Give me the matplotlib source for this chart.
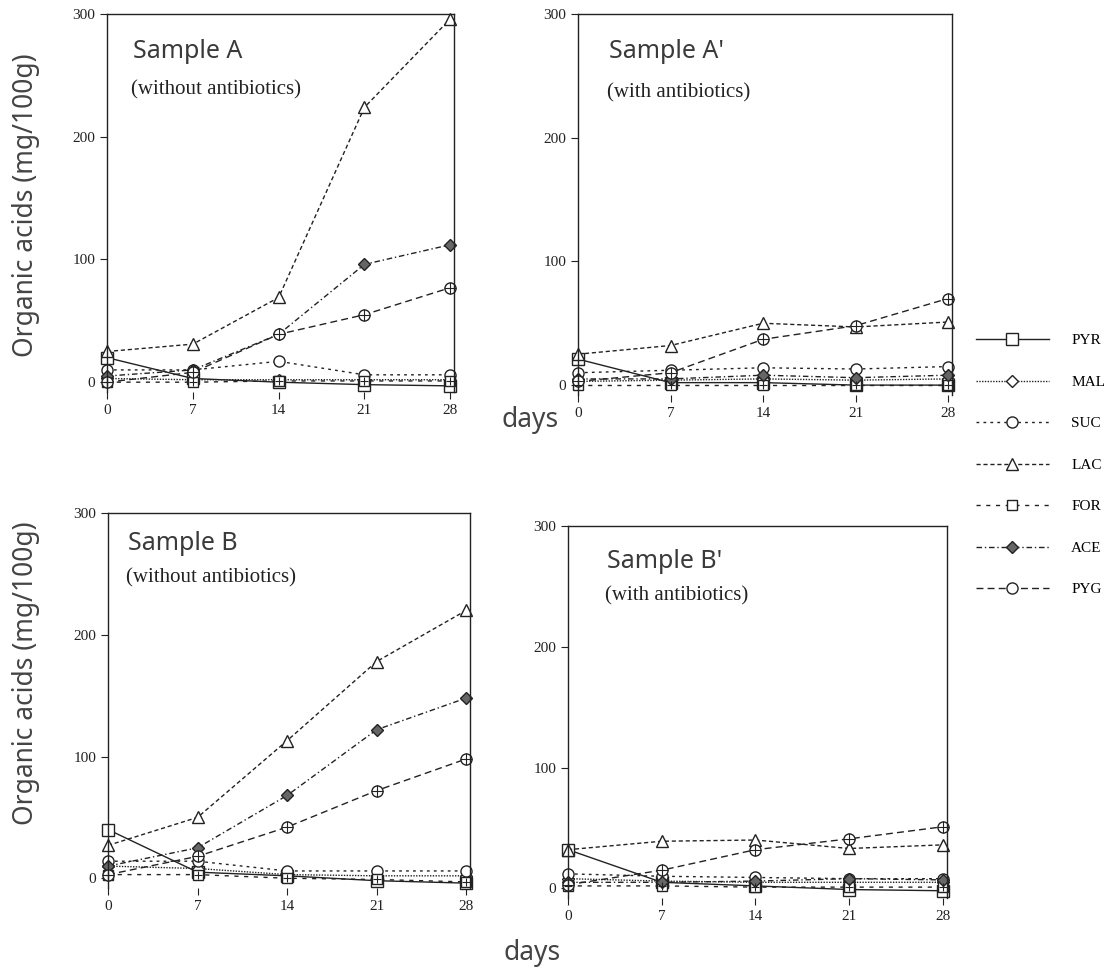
import numpy as np
import matplotlib
matplotlib.use("Agg")
import matplotlib.pyplot as plt

W, H = 1119, 974

days = [0, 7, 14, 21, 28]
acids = ["PYR", "MAL", "SUC", "LAC", "FOR", "ACE", "PYG"]

# values (mg/100g)
sample_A = {
    "PYR": [20, 3, 0, -2, -3],
    "MAL": [3, 2, 2, 2, 2],
    "SUC": [10, 10, 17, 6, 6],
    "LAC": [25, 31, 69, 224, 296],
    "FOR": [0, 0, 1, 1, 1],
    "ACE": [5, 10, 39, 96, 112],
    "PYG": [0, 8, 39, 55, 77],
}
sample_A2 = {
    "PYR": [21, 2, 2, 0, 0],
    "MAL": [3, 4, 5, 4, 5],
    "SUC": [10, 12, 14, 13, 15],
    "LAC": [25, 32, 50, 47, 51],
    "FOR": [0, 0, 0, 0, 0],
    "ACE": [5, 5, 8, 6, 8],
    "PYG": [3, 10, 37, 48, 70],
}
sample_B = {
    "PYR": [40, 5, 2, -2, -4],
    "MAL": [10, 8, 3, 2, 2],
    "SUC": [14, 14, 6, 6, 6],
    "LAC": [27, 50, 113, 178, 220],
    "FOR": [3, 3, 0, -1, -3],
    "ACE": [10, 25, 68, 122, 148],
    "PYG": [3, 18, 42, 72, 98],
}
sample_B2 = {
    "PYR": [32, 5, 2, -1, -2],
    "MAL": [8, 6, 5, 5, 5],
    "SUC": [12, 10, 9, 8, 8],
    "LAC": [32, 39, 40, 33, 36],
    "FOR": [2, 2, 1, 1, 1],
    "ACE": [5, 5, 6, 8, 7],
    "PYG": [3, 15, 32, 41, 51],
}

styles = {
    "PYR": dict(ls="-", marker="s"),
    "MAL": dict(ls=(0, (1, 1)), marker="D", ms=6),
    "SUC": dict(ls=(0, (2, 3)), marker="o"),
    "LAC": dict(ls=(0, (3, 2)), marker="^"),
    "FOR": dict(ls=(0, (3, 4)), marker="s", ms=7),
    "ACE": dict(ls=(0, (4, 2, 1, 2)), marker="D", mfc="#666666", ms=6),
    "PYG": dict(ls=(0, (5, 3)), marker="o"),
}


def px(x, y):
    return x / W, 1 - y / H


fig = plt.figure(figsize=(W / 100, H / 100), dpi=100)

# axes boxes in pixels: left, right, top, bottom
boxes = [(107, 454, 14, 392), (578, 952, 14, 395),
         (108, 470, 513, 888), (568, 947, 526, 898)]
datasets = [sample_A, sample_A2, sample_B, sample_B2]
titles = [("Sample A", "(without antibiotics)", 133, 52, 90),
          ("Sample A'", "(with antibiotics)", 609, 52, 93),
          ("Sample B", "(without antibiotics)", 128, 543, 578),
          ("Sample B'", "(with antibiotics)", 607, 562, 596)]

handles = []
for k, (box, data) in enumerate(zip(boxes, datasets)):
    l, r, t, b = box
    x0, y0 = px(l, b)
    ax = fig.add_axes([x0, y0, (r - l) / W, (b - t) / H])
    for name in acids:
        st = dict(styles[name])
        mfc = st.pop("mfc", "white")
        ms = st.pop("ms", 8)
        ln, = ax.plot(days, data[name], color="#222222", lw=1.0,
                      mfc=mfc, mec="#222222", mew=1.0, ms=ms,
                      clip_on=False, label=name, **st)
        if k == 0:
            handles.append(ln)
    # plus inside FOR and PYG markers
    ax.plot(days, data["FOR"], ls="none", marker="+", ms=6, mew=0.8,
            color="#222222", clip_on=False)
    ax.plot(days, data["PYG"], ls="none", marker="+", ms=8, mew=0.8,
            color="#222222", clip_on=False)
    ax.set_xlim(0, 28.3)
    ax.set_ylim(-8, 300)
    ax.spines["bottom"].set_visible(False)
    for s in ["left", "right", "top"]:
        ax.spines[s].set_linewidth(1.0)
        ax.spines[s].set_color("#222222")
    ax.set_xticks(days)
    ax.set_yticks([0, 100, 200, 300])
    ax.tick_params(direction="out", length=5, width=0.8, labelsize=11,
                   colors="#222222")
    for lab in ax.get_xticklabels() + ax.get_yticklabels():
        lab.set_family("Liberation Serif")
    ax.patch.set_alpha(0)

    tt, sub, tx, ty1, ty2 = titles[k]
    fig.text(*px(tx, ty1), tt, fontsize=18, family="Noto Sans",
             color="#3a3a3a", va="center", ha="left")
    fig.text(*px(tx - 2, ty2), sub, fontsize=15, family="Liberation Serif",
             color="#222222", va="center", ha="left")

for y in [205, 673]:
    fig.text(*px(26, y), "Organic acids (mg/100g)", rotation=90, fontsize=19,
             family="Noto Sans", color="#444444", va="center", ha="center")
fig.text(*px(530, 420), "days", fontsize=19, family="Noto Sans",
         color="#444444", va="center", ha="center")
fig.text(*px(532, 953), "days", fontsize=19, family="Noto Sans",
         color="#444444", va="center", ha="center")

leg = fig.legend(handles=handles, loc="upper left",
                 bbox_to_anchor=px(962, 320), frameon=False,
                 handlelength=4.8, labelspacing=1.82, handletextpad=1.45,
                 prop={"family": "Liberation Serif", "size": 11})

fig.savefig("out.png", dpi=100)
